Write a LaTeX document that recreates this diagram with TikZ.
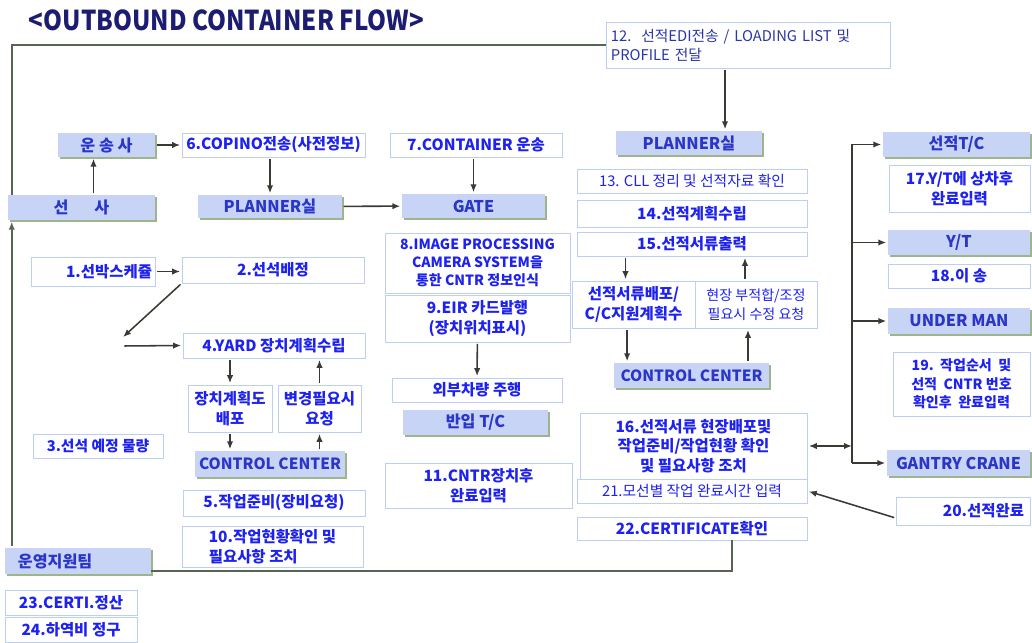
\documentclass[tikz,border=0pt]{standalone}
\usepackage{fontspec}
\setmainfont{Noto Sans CJK KR}
\usetikzlibrary{arrows.meta,shadows}

\definecolor{hdrfill}{HTML}{C8D4F6}
\definecolor{hdrtext}{HTML}{2B36C8}
\definecolor{boxline}{HTML}{BCCEF2}
\definecolor{boxtext}{HTML}{1E22F0}
\definecolor{edtext}{HTML}{2A36A8}
\definecolor{shade}{HTML}{9DB58A}
\definecolor{wire}{HTML}{3A3A34}
\definecolor{loopline}{HTML}{566656}
\definecolor{titleblue}{HTML}{1C1C70}

\begin{document}
\begin{tikzpicture}[x=0.025cm, y=-0.025cm,
    sz/.style 2 args={minimum width=#1*0.025cm, minimum height=#2*0.025cm},
    hdr/.style={fill=hdrfill, text=hdrtext, inner sep=1pt, align=center,
        font=\bfseries\fontsize{11.5}{14}\selectfont,
        drop shadow={shadow xshift=1.6pt, shadow yshift=-1.6pt, fill=shade, opacity=1}},
    box/.style={draw=boxline, line width=0.6pt, fill=white, text=boxtext, inner sep=1pt,
        align=center, font=\bfseries\fontsize{11}{14}\selectfont},
    reg/.style={font=\fontsize{10.5}{13.5}\selectfont},
    arr/.style={-{Latex[length=2mm,width=1.6mm]}, wire, line width=1.1pt, shorten >=1pt, shorten <=1pt},
    arrtwo/.style={{Latex[length=2mm,width=1.6mm]}-{Latex[length=2mm,width=1.6mm]}, wire, line width=1.1pt, shorten >=1pt, shorten <=1pt},
    link/.style={wire, line width=1.1pt},
    loop/.style={loopline, line width=1.3pt},
]
\useasboundingbox (0,0) rectangle (1032,643);

\node[anchor=west, text=titleblue, font=\bfseries\fontsize{19.5}{22}\selectfont] (title) at (24,20) {\scalebox{0.88}[1]{<OUTBOUND CONTAINER FLOW>}};

% shipping line / carrier side
\node[hdr, sz={97}{24}] (unsong) at (106.5,145) {운 송 사};
\node[hdr, sz={147}{25}] (seonsa) at (81.5,207.5) {선\hspace{1.6em}사};
\node[box, sz={183}{24}] (copino) at (273.5,145) {6.COPINO전송(사전정보)};
\node[hdr, sz={144}{23}] (plannerL) at (270,206.5) {PLANNER실};
\node[box, sz={172}{24}] (cont7) at (476,145) {7.CONTAINER 운송};
\node[hdr, sz={143}{24}] (gate) at (473.5,206) {GATE};

% gate side
\node[box, sz={185}{60}, font=\bfseries\fontsize{10}{13}\selectfont] (img8) at (477.5,263) {8.IMAGE PROCESSING\\CAMERA SYSTEM을\\통한 CNTR 정보인식};
\node[box, sz={185}{47}] (eir9) at (477.5,318.5) {9.EIR 카드발행\\(장치위치표시)};
\node[box, sz={170}{24}] (drive) at (477,390) {외부차량 주행};
\node[hdr, sz={145}{25}] (intc) at (475.5,422.5) {반입 T/C};
\node[box, sz={187}{45}] (cntr11) at (478.5,485.5) {11.CNTR장치후\\완료입력};

% planner room
\node[box, reg, text=edtext, sz={284}{46}, text width=6.85cm, align=left] (edi12) at (748,45) {12.\ \ 선적EDI전송 / LOADING LIST 및\\PROFILE 전달};
\node[hdr, sz={146}{24}] (plannerR) at (689,143) {PLANNER실};
\node[box, reg, sz={230}{24}] (cll13) at (692,181) {13. CLL 정리 및 선적자료 확인};
\node[box, sz={230}{27}] (plan14) at (692,213.5) {14.선적계획수립};
\node[box, sz={230}{24}] (print15) at (692,244) {15.선적서류출력};
\node[box, sz={123}{47}] (dist) at (633.5,304.5) {선적서류배포/\\C/C지원계획수};
\node[box, reg, sz={122}{47}, font=\fontsize{10}{13.5}\selectfont] (req) at (756,304.5) {현장 부적합/조정\\필요시 수정 요청};
\node[hdr, sz={155}{25}, font=\bfseries\fontsize{11}{13}\selectfont] (ccR) at (691.5,375.5) {CONTROL CENTER};
\node[box, sz={227}{66}] (doc16) at (693.5,446) {16.선적서류 현장배포및\\작업준비/작업현황 확인\\및 필요사항 조치};
\node[box, reg, sz={230}{24}] (time21) at (692,491) {21.모선별 작업 완료시간 입력};
\node[box, sz={230}{23}] (cert22) at (692,528.5) {22.CERTIFICATE확인};
\node[box, sz={134}{28}, text width=3.05cm, align=right] (done20) at (963,511) {20.선적완료};

% equipment
\node[hdr, sz={147}{25}] (loadtc) at (956.5,144.5) {선적T/C};
\node[box, sz={141}{47}] (yt17) at (959.5,188.5) {17.Y/T에 상차후\\완료입력};
\node[hdr, sz={142}{25}] (yt) at (959,242.5) {Y/T};
\node[box, sz={142}{24}] (move18) at (959,276) {18.이 송};
\node[hdr, sz={142}{26}] (under) at (959,321) {UNDER MAN};
\node[box, sz={137}{64}, font=\bfseries\fontsize{10}{13}\selectfont] (seq19) at (961.5,384) {19.\ \ 작업순서\ \ 및\\선적\ \ CNTR 번호\\확인후\ \ 완료입력};
\node[hdr, sz={143}{26}] (gantry) at (958.5,463) {GANTRY CRANE};

% yard planning
\node[box, sz={124}{29}, text width=2.95cm, align=right] (sched1) at (93,271.5) {1.선박스케쥴};
\node[box, sz={182}{26}] (berth2) at (273,270) {2.선석배정};
\node[box, sz={182}{25}] (yard4) at (274,345.5) {4.YARD 장치계획수립};
\node[box, sz={84}{47}] (plan4a) at (230,408.5) {장치계획도\\배포};
\node[box, sz={83}{47}] (chg4b) at (319.5,408.5) {변경필요시\\요청};
\node[hdr, sz={150}{26}, font=\bfseries\fontsize{11}{13}\selectfont] (ccL) at (270,464) {CONTROL CENTER};
\node[box, sz={130}{24}, font=\bfseries\fontsize{10.5}{13}\selectfont] (vol3) at (98,446) {3.선석 예정 물량};
\node[box, sz={182}{26}] (prep5) at (274,503) {5.작업준비(장비요청)};
\node[box, sz={181}{41}, align=left] (stat10) at (272.5,546.5) {10.작업현황확인 및\\필요사항 조치};
\node[hdr, sz={146}{26}, text width=3cm, align=left] (ops) at (78,561) {운영지원팀};
\node[box, sz={132}{25}] (certi23) at (71,602.5) {23.CERTI.정산};
\node[box, sz={132}{25}] (bill24) at (71,629.5) {24.하역비 정구};

% outer loop
\draw[loop] (edi12.west) -| ([xshift=0.1cm]seonsa.north west);
\draw[loop] ([xshift=1cm]cert22.south) |- ([yshift=-0.25cm]ops.east);
\draw[arr, loopline, line width=1.3pt] ([xshift=0.175cm]ops.north west) -- ([xshift=0.175cm]ops.north west |- seonsa.south);

\draw[arr] (unsong) -- (copino);
\draw[arr] ([xshift=0.3cm]seonsa.north) -- ([xshift=0.3cm]seonsa.north |- unsong.south);
\draw[arr] (copino.south -| plannerL) -- (plannerL.north);
\draw[arr] (plannerL) -- (gate);
\draw[arr] (cont7.south -| gate) -- (gate.north);
\draw[arr] (eir9) -- (drive);

\draw[arr] ([xshift=0.9cm]plannerR.north |- edi12.south) -- ([xshift=0.9cm]plannerR.north);
\draw[arr] ([xshift=-0.2cm]dist.north |- print15.south) -- ([xshift=-0.2cm]dist.north);
\draw[arr] ([xshift=-0.275cm]req.north) -- ([xshift=-0.275cm]req.north |- print15.south);
\draw[arr] ([xshift=-0.16cm]dist.south) -- ([xshift=-0.16cm]dist.south |- ccR.north);
\draw[arr] ([xshift=-0.2cm]req.south |- ccR.north) -- ([xshift=-0.2cm]req.south);
\draw[arr] ([yshift=-0.175cm]done20.west) -- (time21.east);

% equipment bus
\coordinate (busT) at (852,144.5);
\coordinate (busB) at (852,463);
\draw[link] (busT) -- (busB);
\draw[arr, shorten <=0pt] (busT) -- (loadtc.west);
\draw[arr, shorten <=0pt] (yt.west -| busT) -- (yt.west);
\draw[arr, shorten <=0pt] (under.west -| busT) -- (under.west);
\draw[arr, shorten <=0pt] (busB) -- (gantry.west);
\draw[arrtwo, shorten >=0pt] (doc16.east) -- (doc16.east -| busT);

\draw[arr] (sched1.east) -- (sched1.east -| berth2.west);
\coordinate (turnA) at (122,338);
\coordinate (turnB) at (123,346);
\draw[arr] (berth2.south west) -- (turnA);
\draw[arr] (turnB) -- (yard4.west);
\draw[arr] (plan4a.north |- yard4.south) -- (plan4a.north);
\draw[arr] (chg4b.north) -- (chg4b.north |- yard4.south);
\draw[arr] (plan4a.south) -- (plan4a.south |- ccL.north);
\draw[arr] (chg4b.south |- ccL.north) -- (chg4b.south);
\end{tikzpicture}
\end{document}
